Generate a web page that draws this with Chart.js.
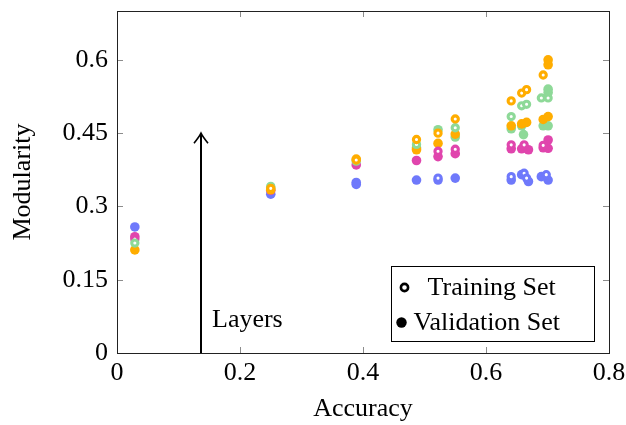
<!DOCTYPE html>
<html>
<head>
<meta charset="utf-8">
<title>Modularity vs Accuracy</title>
<script src="https://cdn.jsdelivr.net/npm/chart.js@4.4.0/dist/chart.umd.min.js"></script>
<style>
    html, body { margin: 0; padding: 0; background: #fff; }
    #wrap { width: 626px; height: 425px; }
</style>
</head>
<body>
<div id="wrap"><canvas id="grafico" width="626" height="425"></canvas></div>
<script>
// Pontos [accuracy, modularity] por grupo de camadas
const azulTreino = [[0.522, 0.358], [0.641, 0.361], [0.662, 0.368], [0.666, 0.358], [0.698, 0.365]];
const azulValid = [[0.029, 0.258], [0.250, 0.325], [0.389, 0.349], [0.389, 0.345], [0.487, 0.354],
    [0.522, 0.354], [0.550, 0.358], [0.641, 0.354], [0.658, 0.365], [0.669, 0.351], [0.690, 0.361], [0.701, 0.354]];

const rosaTreino = [[0.029, 0.233], [0.522, 0.413], [0.550, 0.417], [0.641, 0.426], [0.662, 0.426], [0.693, 0.425]];
const rosaValid = [[0.029, 0.238], [0.250, 0.333], [0.389, 0.385], [0.487, 0.394], [0.522, 0.402], [0.550, 0.408],
    [0.641, 0.418], [0.658, 0.418], [0.669, 0.416], [0.693, 0.420], [0.701, 0.419], [0.701, 0.436]];

const verdeTreino = [[0.029, 0.225], [0.250, 0.341], [0.487, 0.427], [0.550, 0.461], [0.641, 0.484],
    [0.658, 0.506], [0.666, 0.509], [0.690, 0.522], [0.701, 0.522]];
const verdeValid = [[0.250, 0.338], [0.389, 0.393], [0.487, 0.420], [0.522, 0.457], [0.550, 0.442], [0.641, 0.459],
    [0.658, 0.465], [0.661, 0.447], [0.693, 0.465], [0.701, 0.465], [0.701, 0.540], [0.701, 0.533]];

const laranjaTreino = [[0.250, 0.337], [0.389, 0.395], [0.487, 0.437], [0.522, 0.450], [0.550, 0.479],
    [0.641, 0.516], [0.658, 0.532], [0.666, 0.539], [0.693, 0.569]];
const laranjaValid = [[0.029, 0.211], [0.250, 0.334], [0.389, 0.397], [0.487, 0.416], [0.522, 0.429], [0.550, 0.448],
    [0.641, 0.465], [0.658, 0.469], [0.666, 0.472], [0.693, 0.478], [0.701, 0.484], [0.701, 0.600], [0.701, 0.590]];

// Eixos
const xTicks = [0, 0.2, 0.4, 0.6, 0.8];
const yTicks = [0, 0.15, 0.3, 0.45, 0.6];
const legendas = ['Training Set', 'Validation Set'];

// Seta "Layers" (em unidades dos dados)
const setaX = 0.137;
const setaTopo = 0.45;
const setaTexto = 'Layers';

const FONTE = '"Liberation Serif", "Times New Roman", serif';
const TAM = 26;

const cores = {
    azul: '#6f79fb',
    rosa: '#e045ad',
    verde: '#8ed998',
    laranja: '#ffad00'
};

function paraPontos(lista) {
    return lista.map(p => ({ x: p[0], y: p[1] }));
}

function treino(lista, cor) {
    return {
        data: paraPontos(lista),
        pointRadius: 3.1,
        pointHoverRadius: 3.1,
        pointBorderWidth: 3.1,
        pointBackgroundColor: '#ffffff',
        pointBorderColor: cor
    };
}

function validacao(lista, cor) {
    return {
        data: paraPontos(lista),
        pointRadius: 4.8,
        pointHoverRadius: 4.8,
        pointBorderWidth: 0,
        pointBackgroundColor: cor,
        pointBorderColor: cor
    };
}

// Moldura, marcas dos eixos, seta e legenda
const extras = {
    id: 'extras',
    beforeDatasetsDraw(chart) {
        const { ctx, chartArea: a, scales } = chart;
        ctx.save();
        ctx.strokeStyle = '#8c8c8c';
        ctx.lineWidth = 1;
        const tam = 6;
        xTicks.forEach(v => {
            const px = Math.round(scales.x.getPixelForValue(v)) + 0.5;
            ctx.beginPath();
            ctx.moveTo(px, a.bottom); ctx.lineTo(px, a.bottom - tam);
            ctx.moveTo(px, a.top); ctx.lineTo(px, a.top + tam);
            ctx.stroke();
        });
        yTicks.forEach(v => {
            const py = Math.round(scales.y.getPixelForValue(v)) + 0.5;
            ctx.beginPath();
            ctx.moveTo(a.left, py); ctx.lineTo(a.left + tam, py);
            ctx.moveTo(a.right, py); ctx.lineTo(a.right - tam, py);
            ctx.stroke();
        });
        ctx.strokeStyle = '#222';
        ctx.strokeRect(Math.round(a.left) + 0.5, Math.round(a.top) + 0.5,
            Math.round(a.right - a.left), Math.round(a.bottom - a.top));
        ctx.restore();
    },
    afterDatasetsDraw(chart) {
        const { ctx, chartArea: a, scales } = chart;
        ctx.save();

        // seta
        const sx = Math.round(scales.x.getPixelForValue(setaX));
        const sy0 = scales.y.getPixelForValue(0);
        const sy1 = scales.y.getPixelForValue(setaTopo);
        ctx.strokeStyle = '#000';
        ctx.lineWidth = 2;
        ctx.beginPath();
        ctx.moveTo(sx, sy0);
        ctx.lineTo(sx, sy1 + 1);
        ctx.stroke();
        ctx.lineWidth = 1.6;
        ctx.beginPath();
        ctx.moveTo(sx - 7, sy1 + 10);
        ctx.quadraticCurveTo(sx - 2, sy1 + 4, sx, sy1);
        ctx.quadraticCurveTo(sx + 2, sy1 + 4, sx + 7, sy1 + 10);
        ctx.stroke();

        ctx.fillStyle = '#000';
        ctx.font = TAM + 'px ' + FONTE;
        ctx.textBaseline = 'middle';
        ctx.textAlign = 'left';
        ctx.fillText(setaTexto, sx + 11, scales.y.getPixelForValue(0.068));

        // legenda
        const lw = 203, lh = 75;
        const lx = Math.round(a.right - 15 - lw) + 0.5;
        const ly = Math.round(a.bottom - 12 - lh) + 0.5;
        ctx.fillStyle = '#fff';
        ctx.fillRect(lx, ly, lw, lh);
        ctx.strokeStyle = '#000';
        ctx.lineWidth = 1;
        ctx.strokeRect(lx, ly, lw, lh);

        const y1 = ly + 21, y2 = ly + 56;
        ctx.lineWidth = 2.6;
        ctx.beginPath();
        ctx.arc(lx + 13, y1, 3.6, 0, Math.PI * 2);
        ctx.stroke();
        ctx.fillStyle = '#000';
        ctx.beginPath();
        ctx.arc(lx + 10, y2, 5.2, 0, Math.PI * 2);
        ctx.fill();

        ctx.fillText(legendas[0], lx + 36, y1 + 1);
        ctx.fillText(legendas[1], lx + 22, y2 + 1);
        ctx.restore();
    }
};

const ctx = document.getElementById('grafico').getContext('2d');
new Chart(ctx, {
    type: 'scatter',
    data: {
        datasets: [
            treino(laranjaTreino, cores.laranja),
            treino(verdeTreino, cores.verde),
            treino(rosaTreino, cores.rosa),
            treino(azulTreino, cores.azul),
            validacao(laranjaValid, cores.laranja),
            validacao(verdeValid, cores.verde),
            validacao(rosaValid, cores.rosa),
            validacao(azulValid, cores.azul)
        ]
    },
    options: {
        responsive: false,
        animation: false,
        events: [],
        layout: { padding: { top: 11, right: 17, left: 0, bottom: 0 } },
        plugins: {
            legend: { display: false },
            tooltip: { enabled: false }
        },
        scales: {
            x: {
                type: 'linear',
                min: 0,
                max: 0.8,
                afterBuildTicks: s => { s.ticks = xTicks.map(v => ({ value: v })); },
                afterFit: s => {
                    s.height = 72;
                    s.paddingLeft = 0;
                    s.paddingRight = 0;
                },
                grid: { display: false, drawTicks: false },
                border: { display: false },
                ticks: {
                    padding: 5,
                    color: '#000',
                    font: { family: FONTE, size: TAM },
                    callback: v => String(v)
                },
                title: {
                    display: true,
                    text: 'Accuracy',
                    color: '#000',
                    font: { family: FONTE, size: TAM },
                    padding: { top: 0, bottom: 0 }
                }
            },
            y: {
                type: 'linear',
                min: 0,
                max: 0.7,
                afterBuildTicks: s => { s.ticks = yTicks.map(v => ({ value: v })); },
                afterFit: s => {
                    s.width = 117;
                    s.paddingTop = 0;
                    s.paddingBottom = 0;
                },
                grid: { display: false, drawTicks: false },
                border: { display: false },
                ticks: {
                    padding: 9,
                    color: '#000',
                    font: { family: FONTE, size: TAM },
                    callback: v => String(v)
                },
                title: {
                    display: true,
                    text: 'Modularity',
                    color: '#000',
                    font: { family: FONTE, size: TAM },
                    padding: { top: 8, bottom: 0 }
                }
            }
        }
    },
    plugins: [extras]
});
</script>
</body>
</html>
